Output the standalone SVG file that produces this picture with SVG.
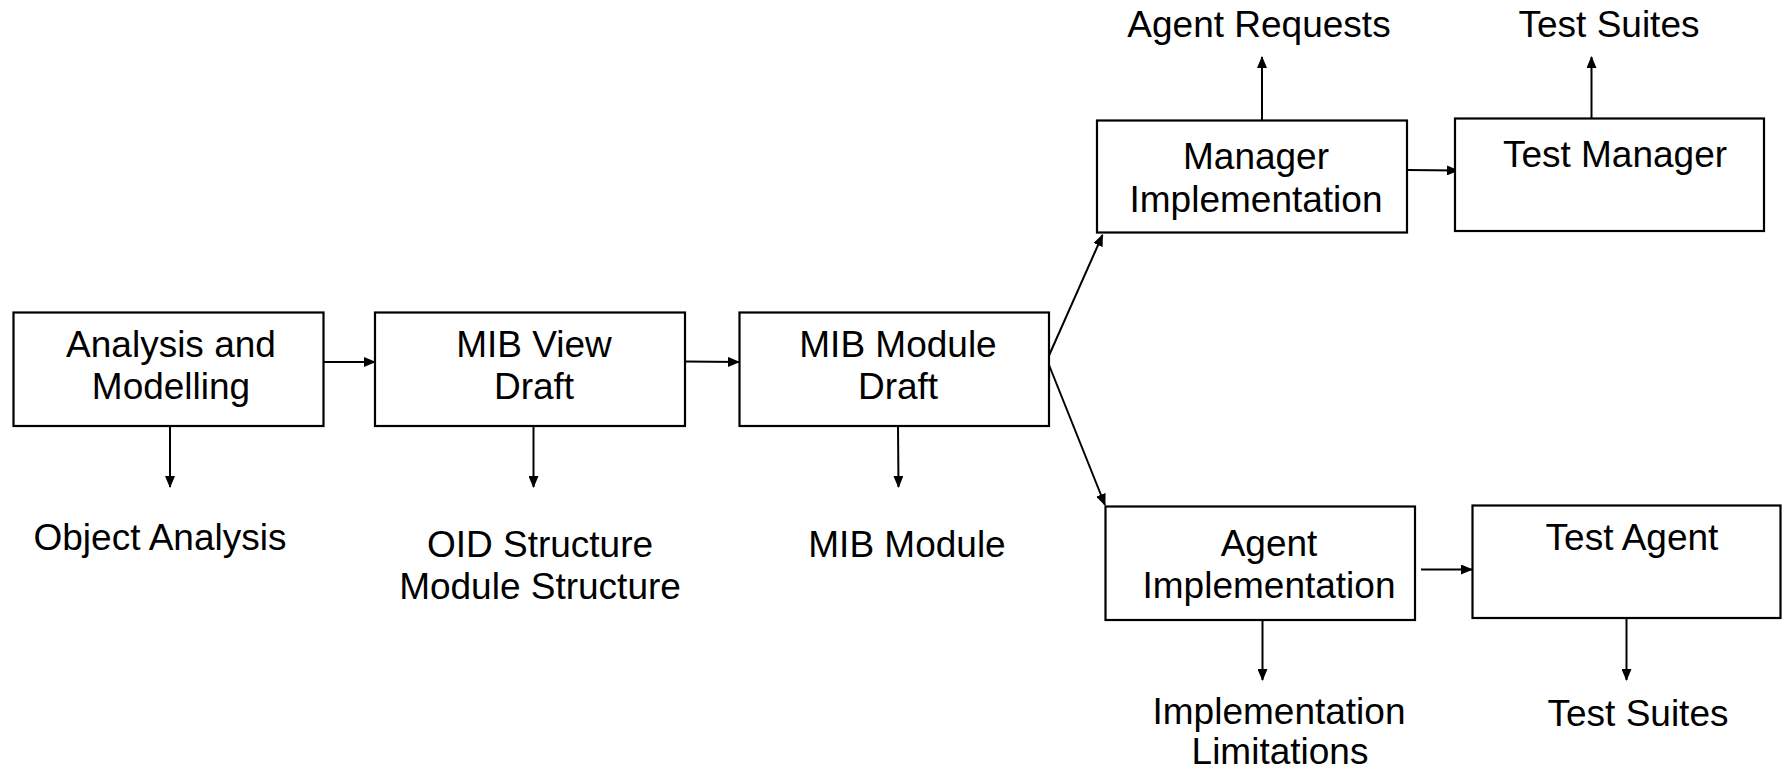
<svg xmlns="http://www.w3.org/2000/svg" width="1782" height="772" viewBox="0 0 1782 772">
<style>
.box{fill:#fff;stroke:#000;stroke-width:2.2}
.t{font-family:"Liberation Sans",Arial,sans-serif;font-size:37px;fill:#000;text-anchor:middle}
.c{fill:none;stroke:#000;stroke-width:2;marker-end:url(#ah)}
</style>
<defs>
<marker id="ah" markerUnits="userSpaceOnUse" markerWidth="12" markerHeight="10" refX="11" refY="5" orient="auto">
<path d="M0,0 L12,5 L0,10 Z" fill="#000"/>
</marker>
</defs>
<rect width="1782" height="772" fill="#fff"/>
<g id="connectors">
<line class="c" x1="323" y1="362" x2="375" y2="362"/>
<line class="c" x1="685" y1="361.5" x2="739" y2="362"/>
<line class="c" x1="170" y1="426" x2="170" y2="487"/>
<line class="c" x1="533.5" y1="426" x2="533.5" y2="487"/>
<line class="c" x1="898" y1="426" x2="898.5" y2="487"/>
<line class="c" x1="1047" y1="360" x2="1102.5" y2="235"/>
<line class="c" x1="1047" y1="360" x2="1105" y2="505"/>
<line class="c" x1="1262" y1="120" x2="1262" y2="57"/>
<line class="c" x1="1407" y1="170" x2="1458" y2="170.5"/>
<line class="c" x1="1591.5" y1="118" x2="1591.5" y2="57"/>
<line class="c" x1="1421" y1="569.5" x2="1472" y2="569.5"/>
<line class="c" x1="1262.5" y1="620" x2="1262.5" y2="680"/>
<line class="c" x1="1626.5" y1="618" x2="1626.5" y2="680"/>
</g>
<g id="analysis">
<rect class="box" x="13.5" y="312.5" width="310" height="113.5"/>
<text class="t" x="171" y="357">Analysis and</text>
<text class="t" x="171" y="399">Modelling</text>
</g>
<g id="mibview">
<rect class="box" x="375" y="312.5" width="310" height="113.5"/>
<text class="t" x="534" y="357">MIB View</text>
<text class="t" x="534" y="399">Draft</text>
</g>
<g id="mibmodule">
<rect class="box" x="739.5" y="312.5" width="309.5" height="113.5"/>
<text class="t" x="898" y="357">MIB Module</text>
<text class="t" x="898" y="399">Draft</text>
</g>
<g id="manager">
<rect class="box" x="1097" y="120.5" width="310" height="112"/>
<text class="t" x="1256" y="169">Manager</text>
<text class="t" x="1256" y="212">Implementation</text>
</g>
<g id="testmanager">
<rect class="box" x="1455" y="118.5" width="309" height="112.5"/>
<text class="t" x="1615" y="167">Test Manager</text>
</g>
<g id="agent">
<rect class="box" x="1105.5" y="506.5" width="309.5" height="113.5"/>
<text class="t" x="1269" y="556">Agent</text>
<text class="t" x="1269" y="598">Implementation</text>
</g>
<g id="testagent">
<rect class="box" x="1472.5" y="505.5" width="308" height="112.5"/>
<text class="t" x="1632" y="550">Test Agent</text>
</g>
<g id="labels">
<text class="t" x="160" y="550">Object Analysis</text>
<text class="t" x="540" y="557">OID Structure</text>
<text class="t" x="540" y="599">Module Structure</text>
<text class="t" x="907" y="557">MIB Module</text>
<text class="t" x="1259" y="37">Agent Requests</text>
<text class="t" x="1609" y="37">Test Suites</text>
<text class="t" x="1279" y="724">Implementation</text>
<text class="t" x="1280" y="764">Limitations</text>
<text class="t" x="1638" y="726">Test Suites</text>
</g>
</svg>
